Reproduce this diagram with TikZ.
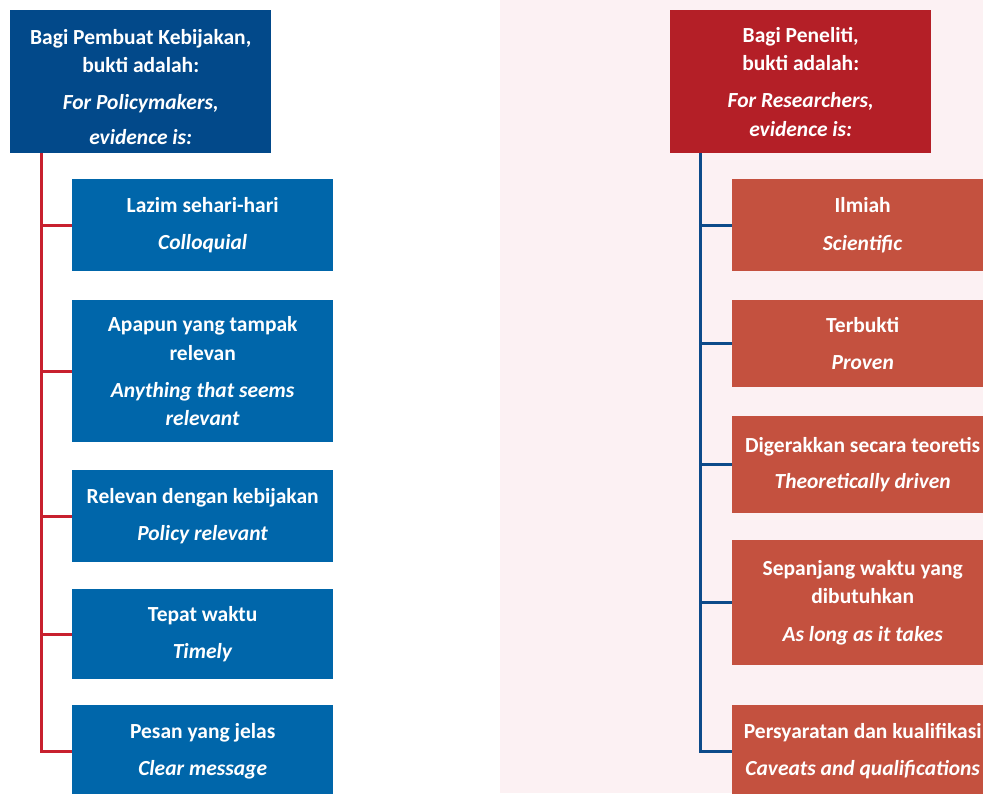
\documentclass[tikz,border=0pt]{standalone}
\usepackage{fontspec}
\setmainfont{Carlito}
\definecolor{hdblue}{HTML}{02498A}
\definecolor{bxblue}{HTML}{0066AA}
\definecolor{lnred}{HTML}{C8202F}
\definecolor{hdred}{HTML}{B41F27}
\definecolor{bxred}{HTML}{C4513F}
\definecolor{lnblue}{HTML}{0D4B8A}
\definecolor{bgpink}{HTML}{FCF1F3}
\newcommand\boxfont{\fontsize{21.5}{28.3}\selectfont\bfseries}
\tikzset{
  card/.style={anchor=north west, minimum width=261pt, inner sep=0pt, align=center, text=white, font=\boxfont},
  lhead/.style={card, fill=hdblue, minimum height=143pt},
  rhead/.style={card, fill=hdred, minimum height=143pt},
  lbox/.style={card, fill=bxblue},
  rbox/.style={card, fill=bxred},
  lconn/.style={draw=lnred, line width=3pt},
  rconn/.style={draw=lnblue, line width=3pt},
}
\begin{document}
\begin{tikzpicture}[x=1pt,y=-1pt]
\useasboundingbox (0,0) rectangle (983,793);
\clip (0,0) rectangle (983,793);
\fill[bgpink] (500,0) rectangle (983,793);
% left column
\node[lhead] (lh) at (10,10) {\rule{0pt}{26pt}Bagi Pembuat Kebijakan,\\ bukti adalah:\\[8pt] \textit{For Policymakers,}\\[7pt] \textit{evidence is:}};
\node[lbox, minimum height=92pt] (l1) at (72,179) {Lazim sehari-hari\\[9pt] \textit{Colloquial}};
\node[lbox, minimum height=142pt] (l2) at (72,300) {Apapun yang tampak\\ relevan\\[9pt] \textit{Anything that seems}\\ \textit{relevant}};
\node[lbox, minimum height=92pt] (l3) at (72,470) {Relevan dengan kebijakan\\[9pt] \textit{Policy relevant}};
\node[lbox, minimum height=90pt] (l4) at (72,589) {Tepat waktu\\[9pt] \textit{Timely}};
\node[lbox, minimum height=92pt] (l5) at (72,705) {Pesan yang jelas\\[9pt] \textit{Clear message}};
\coordinate (ltrunk) at (41.5,153);
\foreach \b in {l1,l2,l3,l4,l5}{\draw[lconn] (ltrunk) |- (\b.west);}
% right column
\node[rhead] (rh) at (670,10) {Bagi Peneliti,\\ bukti adalah:\\[9pt] \textit{For Researchers,}\\ \textit{evidence is:}};
\node[rbox, minimum height=92pt] (r1) at (732,179) {Ilmiah\\[9pt] \textit{Scientific}};
\node[rbox, minimum height=87pt] (r2) at (732,300) {Terbukti\\[9pt] \textit{Proven}};
\node[rbox, minimum height=97pt] (r3) at (732,416) {Digerakkan secara teoretis\\[7pt] \textit{Theoretically driven}};
\node[rbox, minimum height=125pt] (r4) at (732,540) {Sepanjang waktu yang\\ dibutuhkan\\[9pt] \textit{As long as it takes}};
\node[rbox, minimum height=92pt] (r5) at (732,705) {Persyaratan dan kualifikasi\\[9pt] \textit{Caveats and qualifications}};
\coordinate (rtrunk) at (700,153);
\foreach \b in {r1,r2,r3,r4,r5}{\draw[rconn] (rtrunk) |- (\b.west);}
\end{tikzpicture}
\end{document}
